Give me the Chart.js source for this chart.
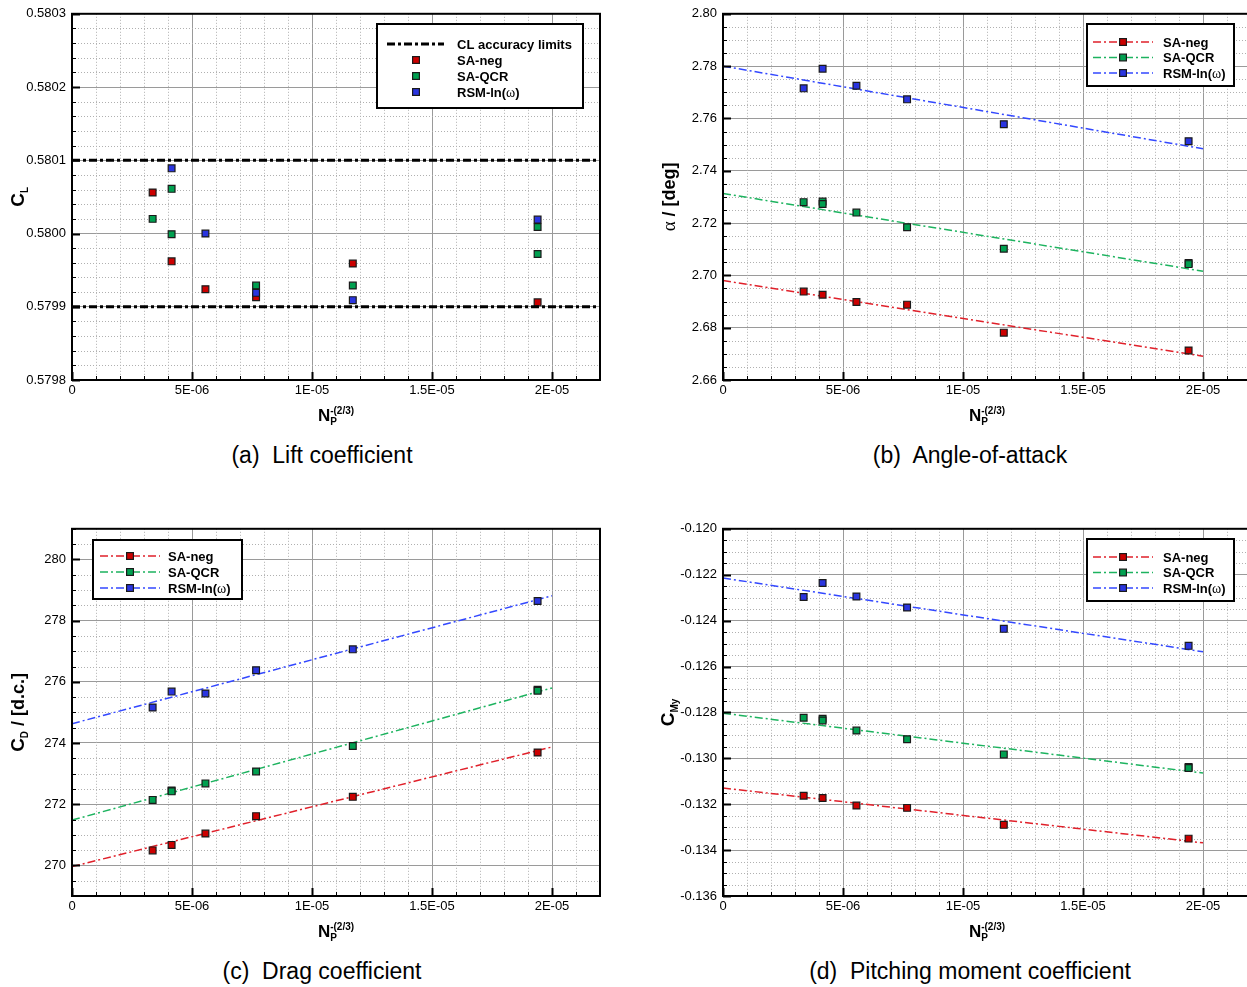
<!DOCTYPE html>
<html>
<head>
<meta charset="utf-8">
<script src="https://cdn.jsdelivr.net/npm/chart.js@4.4.1/dist/chart.umd.min.js"></script>
<style>
  html, body { margin: 0; padding: 0; background: #fff; width: 1247px; height: 987px; overflow: hidden; position: relative; }
  canvas { position: absolute; }
  .cap { position: absolute; width: 600px; text-align: center; font: 23px "Liberation Sans", Arial, sans-serif; line-height: 26px; color: #000; white-space: pre; }
</style>
</head>
<body>
<canvas id="cl" width="620" height="440" style="left:0;top:0"></canvas>
<canvas id="alpha" width="620" height="440" style="left:640px;top:0"></canvas>
<canvas id="cd" width="620" height="440" style="left:0;top:515px"></canvas>
<canvas id="cm" width="620" height="440" style="left:640px;top:515px"></canvas>
<div class="cap" style="left:22px;top:442px">(a)  Lift coefficient</div>
<div class="cap" style="left:670px;top:442px">(b)  Angle-of-attack</div>
<div class="cap" style="left:22px;top:958px">(c)  Drag coefficient</div>
<div class="cap" style="left:670px;top:958px">(d)  Pitching moment coefficient</div>
<script>
// x axis (shared)
const xTicks = [0, 5e-6, 1e-5, 1.5e-5, 2e-5];
const xTickLabels = ["0", "5E-06", "1E-05", "1.5E-05", "2E-05"];
const gridX = [3.36e-6, 4.15e-6, 5.56e-6, 7.67e-6, 1.170e-5, 1.940e-5];
const qcrX = [3.36e-6, 4.15e-6, 4.15e-6, 5.56e-6, 7.67e-6, 1.170e-5, 1.940e-5, 1.940e-5];
const fitX = [0, 2e-5];

// (a) lift coefficient
const clTickLabels = ["0.5798", "0.5799", "0.5800", "0.5801", "0.5802", "0.5803"];
const clLimitX = [0, 2.2e-5];
const clUpper = [0.5801, 0.5801];
const clLower = [0.5799, 0.5799];
const clNeg = [0.580056, 0.579962, 0.579924, 0.579913, 0.579959, 0.579906];
const clQcrX = [3.36e-6, 4.15e-6, 4.15e-6, 7.67e-6, 1.170e-5, 1.940e-5, 1.940e-5];
const clQcr = [0.580020, 0.580061, 0.579999, 0.579929, 0.579929, 0.580009, 0.579972];
const clRsmX = [4.15e-6, 5.56e-6, 7.67e-6, 1.170e-5, 1.940e-5];
const clRsm = [0.580089, 0.580000, 0.579919, 0.579909, 0.580019];

// (b) angle of attack
const alTickLabels = ["2.66", "2.68", "2.70", "2.72", "2.74", "2.76", "2.78", "2.80"];
const alNeg = [2.6938, 2.6926, 2.6898, 2.6888, 2.6781, 2.6713];
const alQcr = [2.7280, 2.7282, 2.7273, 2.7240, 2.7184, 2.7102, 2.7047, 2.7043];
const alRsm = [2.7715, 2.7790, 2.7725, 2.7673, 2.7578, 2.7513];
const alNegFit = [2.6980, 2.6691];
const alQcrFit = [2.7313, 2.7016];
const alRsmFit = [2.7800, 2.7484];

// (c) drag coefficient
const cdTickLabels = ["270", "272", "274", "276", "278", "280"];
const cdNeg = [270.49, 270.67, 271.04, 271.61, 272.24, 273.69];
const cdQcr = [272.14, 272.45, 272.42, 272.68, 273.07, 273.90, 275.74, 275.71];
const cdRsm = [275.16, 275.68, 275.62, 276.38, 277.06, 278.64];
const cdNegFit = [269.96, 273.87];
const cdQcrFit = [271.48, 275.80];
const cdRsmFit = [274.63, 278.81];

// (d) pitching moment
const cmTickLabels = ["-0.136", "-0.134", "-0.132", "-0.130", "-0.128", "-0.126", "-0.124", "-0.122", "-0.120"];
const cmNeg = [-0.13163, -0.13173, -0.13206, -0.13216, -0.13290, -0.13350];
const cmQcr = [-0.12823, -0.12828, -0.12835, -0.12879, -0.12917, -0.12983, -0.13038, -0.13042];
const cmRsm = [-0.12297, -0.12236, -0.12295, -0.12343, -0.12436, -0.12510];
const cmNegFit = [-0.131294, -0.133683];
const cmQcrFit = [-0.128036, -0.130643];
const cmRsmFit = [-0.122143, -0.125357];

const FONT = '"Liberation Sans", Arial, Helvetica, sans-serif';
const SERIF = '"Liberation Serif", "DejaVu Serif", serif';
const styleNeg = { fill: "#cc0000", line: "#e0202a" };
const styleQcr = { fill: "#00a050", line: "#1db35f" };
const styleRsm = { fill: "#2a35e0", line: "#3348ff" };
const fitDash = [8, 3, 2, 3];
const limitDash = [8, 3, 3, 3];

function pts(xs, ys) {
  return xs.map((x, i) => ({ x: x, y: ys[i] }));
}

function markers(label, xs, ys, st, order) {
  return {
    label, data: pts(xs, ys), showLine: false, order,
    pointStyle: "rect", pointRadius: 4.8, pointHoverRadius: 4.8,
    backgroundColor: st.fill, borderColor: "#1a1a1a",
    pointBackgroundColor: st.fill, pointBorderColor: "#1a1a1a", pointBorderWidth: 1.2,
  };
}

function fit(label, ys, st) {
  return {
    label, data: pts(fitX, ys), showLine: true, order: 10,
    pointRadius: 0, borderColor: st.line, borderWidth: 1.5, borderDash: fitDash,
  };
}

function limit(label, ys) {
  return {
    label, data: pts(clLimitX, ys), showLine: true, order: 0,
    pointRadius: 0, borderColor: "#000", borderWidth: 3, borderDash: limitDash,
  };
}

const omegaLabel = [["RSM-ln(", "bold 13px " + FONT], ["\u03c9", "14px " + SERIF], [")", "bold 13px " + FONT]];

function fitRows(ys) {
  return [
    { y: ys[0], label: [["SA-neg", "bold 13px " + FONT]], line: styleNeg.line, mark: styleNeg.fill },
    { y: ys[1], label: [["SA-QCR", "bold 13px " + FONT]], line: styleQcr.line, mark: styleQcr.fill },
    { y: ys[2], label: omegaLabel, line: styleRsm.line, mark: styleRsm.fill },
  ];
}

const small = "bold 10px " + FONT;
const big = "bold 18px " + FONT;
const capC = "bold 19px " + FONT;
const xTitle = [{ t: "N", f: "bold 17px " + FONT }, { t: "P", f: small, dy: 4, noAdvance: true }, { t: "-(2/3)", f: small, dy: -7 }];

const panelSpec = {
  cl: {
    ySub: 5, yBase: 24,
    yTitle: [{ t: "C", f: capC }, { t: "L", f: small, dy: 4 }],
    legend: {
      box: [377, 24, 583, 108], lineX: [387, 444], markX: 416, textX: 457,
      rows: [
        { y: 44, label: [["CL accuracy limits", "bold 13px " + FONT]], line: "#000", dash: limitDash, width: 3 },
        { y: 60, label: [["SA-neg", "bold 13px " + FONT]], mark: styleNeg.fill },
        { y: 76, label: [["SA-QCR", "bold 13px " + FONT]], mark: styleQcr.fill },
        { y: 92, label: omegaLabel, mark: styleRsm.fill },
      ],
    },
  },
  alpha: {
    ySub: 4, yBase: 35,
    yTitle: [{ t: "\u03b1", f: "19px " + SERIF }, { t: " / [deg]", f: big }],
    legend: { box: [447, 24, 594, 86], lineX: [453, 513], markX: 483, textX: 523, rows: fitRows([42, 57.5, 73]) },
  },
  cd: {
    ySub: 4, yBase: 24,
    yTitle: [{ t: "C", f: capC }, { t: "D", f: small, dy: 4 }, { t: " / [d.c.]", f: big }],
    legend: { box: [93, 25, 242, 84], lineX: [100, 160], markX: 130, textX: 168, rows: fitRows([41, 57, 73]) },
  },
  cm: {
    ySub: 4, yBase: 34,
    yTitle: [{ t: "C", f: capC }, { t: "My", f: small, dy: 4 }],
    legend: { box: [447, 24, 594, 86], lineX: [453, 513], markX: 483, textX: 523, rows: fitRows([42, 57.5, 73]) },
  },
};

function partsWidth(ctx, parts) {
  let w = 0;
  parts.forEach((p) => { ctx.font = p.f; if (!p.noAdvance) w += ctx.measureText(p.t).width; });
  return w;
}

function drawParts(ctx, parts, x, y) {
  let cx = x;
  parts.forEach((p) => {
    ctx.font = p.f;
    ctx.fillText(p.t, cx, y + (p.dy || 0));
    if (!p.noAdvance) cx += ctx.measureText(p.t).width;
  });
}

function line(ctx, x1, y1, x2, y2) {
  ctx.beginPath();
  ctx.moveTo(x1, y1);
  ctx.lineTo(x2, y2);
  ctx.stroke();
}

function square(ctx, x, y, fill) {
  ctx.setLineDash([]);
  ctx.fillStyle = fill;
  ctx.strokeStyle = "#1a1a1a";
  ctx.lineWidth = 1.2;
  ctx.fillRect(x - 3.4, y - 3.4, 6.8, 6.8);
  ctx.strokeRect(x - 3.4, y - 3.4, 6.8, 6.8);
}

const framePlugin = {
  id: "frame",
  beforeDatasetsDraw(chart) {
    const spec = panelSpec[chart.canvas.id];
    const { ctx, chartArea: a, scales: { x, y } } = chart;
    const yt = y.ticks.map((t) => t.value);
    const yMinor = (yt[1] - yt[0]) / spec.ySub;
    const xMinor = 1e-6;
    ctx.save();
    ctx.strokeStyle = "#b0b0b0";
    ctx.lineWidth = 1;
    ctx.setLineDash([1, 2]);
    for (let i = 1; i * xMinor < x.max - 1e-12; i++) {
      if (i % 5 === 0) continue;
      const px = Math.round(x.getPixelForValue(i * xMinor)) + 0.5;
      line(ctx, px, a.top, px, a.bottom);
    }
    const k0 = Math.ceil((y.min - yt[0]) / yMinor - 1e-6);
    const k1 = Math.floor((y.max - yt[0]) / yMinor + 1e-6);
    for (let k = k0; k <= k1; k++) {
      if (((k % spec.ySub) + spec.ySub) % spec.ySub === 0) continue;
      const py = Math.round(y.getPixelForValue(yt[0] + k * yMinor)) + 0.5;
      if (py <= a.top + 1 || py >= a.bottom - 1) continue;
      line(ctx, a.left, py, a.right, py);
    }
    ctx.restore();
  },
  afterDatasetsDraw(chart) {
    const spec = panelSpec[chart.canvas.id];
    const { ctx, chartArea: a, scales: { x, y } } = chart;
    const yt = y.ticks.map((t) => t.value);
    const yMinor = (yt[1] - yt[0]) / spec.ySub;
    ctx.save();
    ctx.strokeStyle = "#000";
    ctx.setLineDash([]);
    // inward ticks, left and bottom
    const k0 = Math.ceil((y.min - yt[0]) / yMinor - 1e-6);
    const k1 = Math.floor((y.max - yt[0]) / yMinor + 1e-6);
    for (let k = k0; k <= k1; k++) {
      const major = ((k % spec.ySub) + spec.ySub) % spec.ySub === 0;
      const py = Math.round(y.getPixelForValue(yt[0] + k * yMinor)) + 0.5;
      ctx.lineWidth = major ? 2 : 1;
      line(ctx, a.left, py, a.left + (major ? 8 : 4), py);
    }
    for (let i = 0; i * 1e-6 <= x.max + 1e-12; i++) {
      const major = i % 5 === 0;
      const px = Math.round(x.getPixelForValue(i * 1e-6)) + 0.5;
      ctx.lineWidth = major ? 2 : 1;
      line(ctx, px, a.bottom, px, a.bottom - (major ? 8 : 4));
    }
    ctx.lineWidth = 2;
    ctx.strokeRect(a.left, a.top, a.right - a.left, a.bottom - a.top);
    ctx.restore();
  },
  afterDraw(chart) {
    const spec = panelSpec[chart.canvas.id];
    const { ctx, chartArea: a } = chart;
    ctx.save();
    ctx.fillStyle = "#000";
    ctx.textBaseline = "alphabetic";
    // x title
    const xw = partsWidth(ctx, xTitle);
    drawParts(ctx, xTitle, (a.left + a.right) / 2 - xw / 2, a.bottom + 41);
    // y title, rotated
    const yw = partsWidth(ctx, spec.yTitle);
    ctx.save();
    ctx.translate(spec.yBase, (a.top + a.bottom) / 2);
    ctx.rotate(-Math.PI / 2);
    drawParts(ctx, spec.yTitle, -yw / 2, 0);
    ctx.restore();
    // legend
    const L = spec.legend;
    const [bx1, by1, bx2, by2] = L.box;
    ctx.fillStyle = "#fff";
    ctx.fillRect(bx1, by1, bx2 - bx1, by2 - by1);
    ctx.strokeStyle = "#000";
    ctx.lineWidth = 2;
    ctx.setLineDash([]);
    ctx.strokeRect(bx1, by1, bx2 - bx1, by2 - by1);
    L.rows.forEach((r) => {
      if (r.line) {
        ctx.strokeStyle = r.line;
        ctx.lineWidth = r.width || 1.5;
        ctx.setLineDash(r.dash || fitDash);
        line(ctx, L.lineX[0], r.y, L.lineX[1], r.y);
        ctx.setLineDash([]);
      }
      if (r.mark) square(ctx, L.markX, r.y, r.mark);
      ctx.fillStyle = "#000";
      ctx.textBaseline = "middle";
      let tx = L.textX;
      r.label.forEach(([t, f]) => {
        ctx.font = f;
        ctx.fillText(t, tx, r.y + 1);
        tx += ctx.measureText(t).width;
      });
    });
    ctx.restore();
  },
};

function makePanel(id, yLabels, yMin, yMax, datasets, pad) {
  const yTicks = yLabels.map(Number);
  return new Chart(document.getElementById(id), {
    type: "scatter",
    data: { datasets },
    options: {
      responsive: false,
      animation: false,
      layout: { padding: { top: pad.top, right: pad.right, left: 0, bottom: 0 } },
      plugins: { legend: { display: false }, tooltip: { enabled: false } },
      scales: {
        x: {
          type: "linear", min: 0, max: 2.2e-5,
          afterBuildTicks: (s) => { s.ticks = xTicks.map((v) => ({ value: v })); },
          afterFit: (s) => { s.height = pad.xh; },
          ticks: {
            callback: (v, i) => xTickLabels[i],
            autoSkip: false, maxRotation: 0, padding: 3, color: "#000",
            font: { family: FONT, size: 13 },
          },
          grid: { color: "#9a9a9a", lineWidth: 1, drawTicks: false },
          border: { display: false },
        },
        y: {
          type: "linear", min: yMin, max: yMax,
          afterBuildTicks: (s) => { s.ticks = yTicks.map((v) => ({ value: v })); },
          afterFit: (s) => { s.width = pad.yw; },
          ticks: {
            callback: (v, i) => yLabels[i],
            autoSkip: false, padding: 6, color: "#000",
            font: { family: FONT, size: 13 },
          },
          grid: { color: "#9a9a9a", lineWidth: 1, drawTicks: false },
          border: { display: false },
        },
      },
    },
    plugins: [framePlugin],
  });
}

makePanel("cl", clTickLabels, 0.5798, 0.5803, [
  limit("upper", clUpper),
  limit("lower", clLower),
  markers("SA-neg", gridX, clNeg, styleNeg, 3),
  markers("SA-QCR", clQcrX, clQcr, styleQcr, 2),
  markers("RSM-ln(w)", clRsmX, clRsm, styleRsm, 1),
], { top: 12, right: 20, yw: 72, xh: 60 });

makePanel("alpha", alTickLabels, 2.66, 2.80, [
  fit("SA-neg fit", alNegFit, styleNeg),
  fit("SA-QCR fit", alQcrFit, styleQcr),
  fit("RSM fit", alRsmFit, styleRsm),
  markers("SA-neg", gridX, alNeg, styleNeg, 3),
  markers("SA-QCR", qcrX, alQcr, styleQcr, 2),
  markers("RSM-ln(w)", gridX, alRsm, styleRsm, 1),
], { top: 13, right: 9, yw: 83, xh: 60 });

makePanel("cd", cdTickLabels, 269, 281, [
  fit("SA-neg fit", cdNegFit, styleNeg),
  fit("SA-QCR fit", cdQcrFit, styleQcr),
  fit("RSM fit", cdRsmFit, styleRsm),
  markers("SA-neg", gridX, cdNeg, styleNeg, 3),
  markers("SA-QCR", qcrX, cdQcr, styleQcr, 2),
  markers("RSM-ln(w)", gridX, cdRsm, styleRsm, 1),
], { top: 13, right: 20, yw: 72, xh: 59 });

makePanel("cm", cmTickLabels, -0.136, -0.120, [
  fit("SA-neg fit", cmNegFit, styleNeg),
  fit("SA-QCR fit", cmQcrFit, styleQcr),
  fit("RSM fit", cmRsmFit, styleRsm),
  markers("SA-neg", gridX, cmNeg, styleNeg, 3),
  markers("SA-QCR", qcrX, cmQcr, styleQcr, 2),
  markers("RSM-ln(w)", gridX, cmRsm, styleRsm, 1),
], { top: 13, right: 9, yw: 83, xh: 59 });
</script>
</body>
</html>
